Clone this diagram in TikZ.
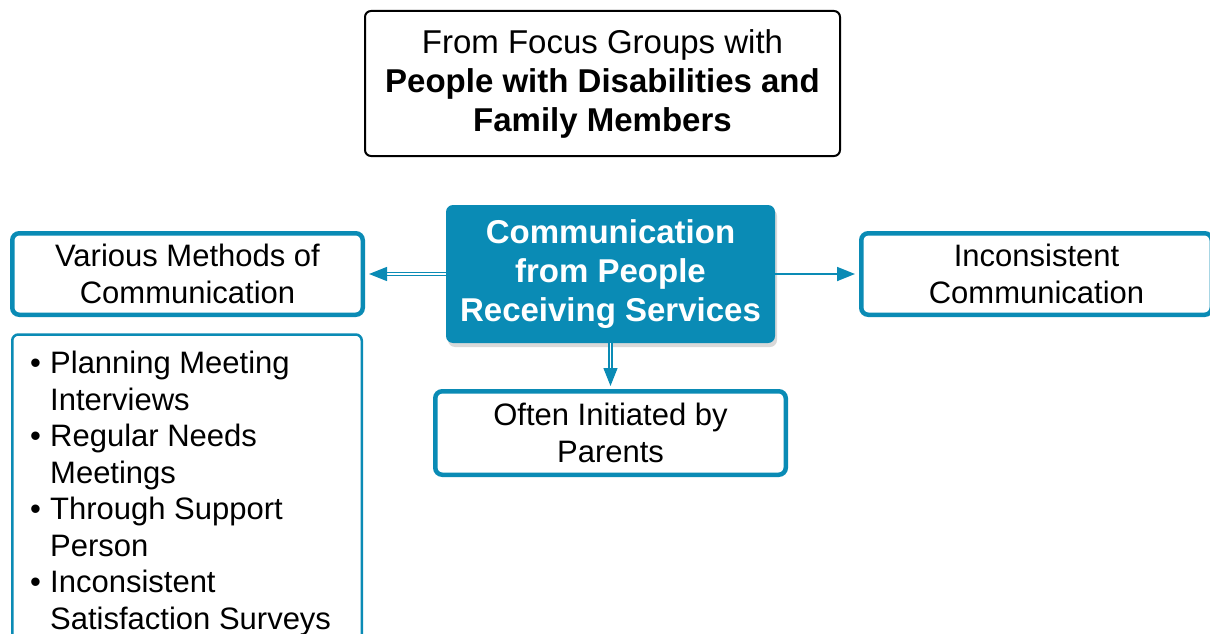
\documentclass[tikz,border=0pt]{standalone}
\usepackage{fontspec}
\setmainfont{Liberation Sans}
\usetikzlibrary{arrows.meta,shadows}
\definecolor{commblue}{HTML}{0A8BB5}
\newcommand{\bulletline}[1]{\makebox[20pt][l]{\textbullet}#1}
\newcommand{\hangline}[1]{\hspace*{20pt}#1}
\begin{document}
\begin{tikzpicture}[x=1pt,y=-1pt,
    bluebox/.style={draw=commblue, line width=4.5pt, rounded corners=7pt, fill=white,
        align=center, inner sep=0pt, font=\fontsize{31}{36.5}\selectfont},
    arrowline/.style={draw=commblue, line width=1.8pt, -{Triangle[length=18pt,width=14pt]}},
    dblarrow/.style={draw=commblue, line width=1.4pt, double=white, double distance=1.6pt,
        -{Triangle[length=18pt,width=14pt]}}]
    \useasboundingbox (0,0) rectangle (1210,634);
    \clip (0,0) rectangle (1210,634);
    %Focus groups
    \node[draw=black, line width=2pt, rounded corners=6pt, minimum width=475pt, minimum height=145pt,
        align=center, font=\fontsize{33}{39}\selectfont] (focus) at (602.5,83.5)
        {From Focus Groups with\\ \textbf{People with Disabilities and}\\ \textbf{Family Members}};
    %Main topic
    \node[fill=commblue, rounded corners=7pt, minimum width=329pt, minimum height=138pt, text=white,
        align=center, inner sep=0pt, font=\bfseries\fontsize{33}{39}\selectfont,
        drop shadow={opacity=0.3, shadow xshift=2pt, shadow yshift=-4pt}] (comm) at (610.5,274)
        {Communication\\ from People\\ Receiving Services};
    %Methods
    \node[bluebox, minimum width=350.5pt, minimum height=81.5pt] (methods) at (187.5,274)
        {Various Methods of\\ Communication};
    \node[draw=commblue, line width=2.5pt, rounded corners=6pt, minimum width=349.5pt,
        minimum height=330pt, anchor=north] (methodbox) at (187,333.25) {};
    \node[anchor=north west, inner sep=0pt, align=left, font=\fontsize{31}{36.5}\selectfont]
        (methodlist) at (30,351)
        {\bulletline{Planning Meeting}\\ \hangline{Interviews}\\
         \bulletline{Regular Needs}\\ \hangline{Meetings}\\
         \bulletline{Through Support}\\ \hangline{Person}\\
         \bulletline{Inconsistent}\\ \hangline{Satisfaction Surveys}};
    %Inconsistent
    \node[bluebox, minimum width=350.5pt, minimum height=81.5pt] (incons) at (1036.5,274)
        {Inconsistent\\ Communication};
    %Parents
    \node[bluebox, minimum width=350.5pt, minimum height=83.5pt] (parents) at (610.5,433)
        {Often Initiated by\\ Parents};
    %Arrows
    \draw[dblarrow, shorten >=4pt] (comm.west) -- (methods.east);
    \draw[arrowline, shorten >=4pt] (comm.east) -- (incons.west);
    \draw[dblarrow, shorten >=3pt] (comm.south) -- (parents.north);
\end{tikzpicture}
\end{document}
